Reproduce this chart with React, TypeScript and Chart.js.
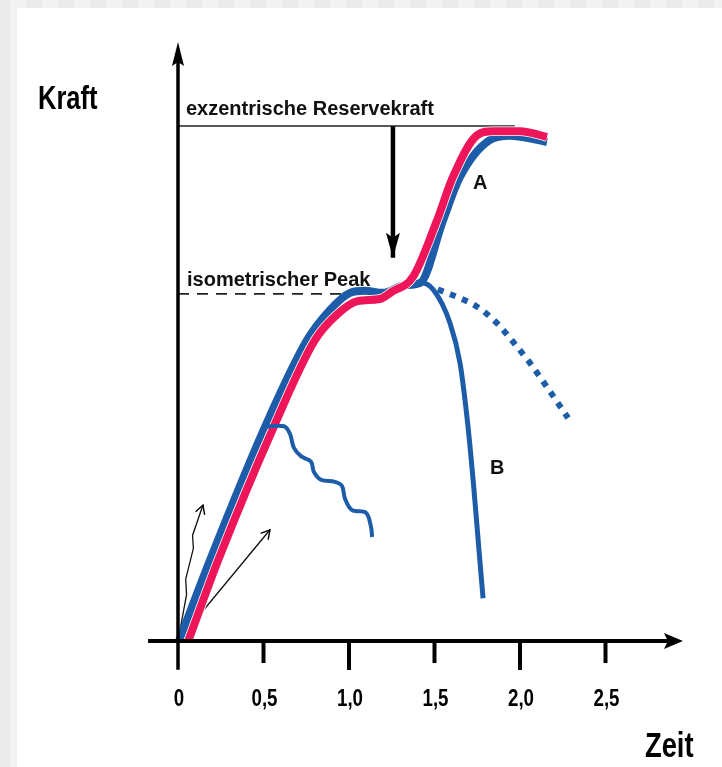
import React, { useEffect, useRef } from "react";
import { Chart, registerables } from "chart.js";
Chart.register(...registerables);

const W = 722;
const H = 767;

// ---- tick labels (x axis: Zeit) ----
const xTickValues = [0, 0.5, 1.0, 1.5, 2.0, 2.5];
const xTickLabels = ["0", "0,5", "1,0", "1,5", "2,0", "2,5"];
const xMajorTicks = [0, 1.0, 2.0];

// ---- reference levels ----
const reserveLevel = 100; // exzentrische Reservekraft
const reserveEndX = 1.97;
const peakLevel = 67.4; // isometrischer Peak
const peakEndX = 0.977;

// ---- series (x: Zeit, y: Kraft) ----
const curveARed: [number, number][] = [
  [0.06, 0], [0.235, 15.7], [0.56, 41.6], [0.8, 58.4], [0.93, 63.4],
  [1.05, 66.0], [1.18, 66.4], [1.25, 67.8], [1.374, 70.7],
  [1.515, 81.7], [1.608, 90.1], [1.749, 98.2], [1.842, 99.0], [2.0, 99.0],
  [2.158, 97.9],
];
const curveABlue: [number, number][] = [
  [0.006, 0], [0.187, 15.7], [0.509, 41.6], [0.754, 58.4], [0.889, 64.3],
  [1.006, 67.6], [1.094, 68.0], [1.2, 67.6], [1.327, 69.1], [1.415, 69.5],
  [1.55, 81.7], [1.649, 90.1], [1.825, 97.3], [1.94, 98.1], [2.158, 96.9],
];
const curveB: [number, number][] = [
  [1.3, 68.5], [1.415, 69.6], [1.491, 68.3], [1.591, 61.7], [1.649, 54.0],
  [1.696, 41.6], [1.731, 29.3], [1.76, 17.7], [1.784, 8.3],
];
const curveDotted: [number, number][] = [
  [1.52, 68.3], [1.749, 64.9], [1.865, 61.7], [1.959, 58.1], [2.058, 54.0],
  [2.158, 49.3], [2.281, 43.3],
];
const curveZigzag: [number, number][] = [
  [0.497, 41.6], [0.62, 41.7], [0.655, 40.2], [0.678, 37.5], [0.719, 35.9],
  [0.778, 34.8], [0.795, 32.8], [0.836, 31.3], [0.918, 30.9], [0.959, 30.1],
  [0.977, 27.6], [1.018, 25.4], [1.099, 24.9], [1.129, 22.1], [1.135, 20.2],
];
const thinArrow1: [number, number][] = [
  [0.0, 0], [0.05, 9], [0.045, 12], [0.09, 18], [0.085, 20.5], [0.146, 26.4],
];
const thinArrow2: [number, number][] = [
  [0.0, 0], [0.538, 21.6],
];
const thickArrow: [number, number][] = [
  [1.257, 100], [1.257, 74.4],
];

// ---- axis extents (in data units) ----
const xAxisFrom = -0.175;
const xAxisTo = 2.953;
const yAxisFrom = -5.6;
const yAxisTo = 116.3;

const RED = "#ee1559";
const BLUE = "#1c5ca8";

const toPts = (arr: [number, number][]) => arr.map(([x, y]) => ({ x, y }));

function drawScaledText(
  ctx: CanvasRenderingContext2D,
  text: string,
  x: number,
  y: number,
  font: string,
  sx: number,
  align: "left" | "center",
  baseline: CanvasTextBaseline
) {
  ctx.save();
  ctx.font = font;
  ctx.textBaseline = baseline;
  ctx.textAlign = align;
  ctx.translate(x, y);
  ctx.scale(sx, 1);
  ctx.fillText(text, 0, 0);
  ctx.restore();
}

const decorPlugin = {
  id: "decor",
  beforeDraw(chart: any) {
    const ctx: CanvasRenderingContext2D = chart.ctx;
    ctx.save();
    ctx.fillStyle = "#ffffff";
    ctx.fillRect(0, 0, W, H);
    ctx.fillStyle = "#ebebeb";
    ctx.fillRect(0, 0, 10, H);
    ctx.fillStyle = "#f3f3f3";
    ctx.fillRect(10, 0, 7, H);
    for (let k = 0, x = 10; x < W; k++, x += 16) {
      ctx.fillStyle = k % 2 === 0 ? "#f3f3f3" : "#ebebeb";
      ctx.fillRect(x, 0, 16, 8);
    }
    ctx.restore();
  },
  afterDatasetsDraw(chart: any) {
    const ctx: CanvasRenderingContext2D = chart.ctx;
    const xs = chart.scales.x;
    const ys = chart.scales.y;
    const X = (v: number) => xs.getPixelForValue(v);
    const Y = (v: number) => ys.getPixelForValue(v);
    ctx.save();
    ctx.fillStyle = "#000";
    ctx.strokeStyle = "#000";
    ctx.lineCap = "butt";

    // x axis
    const y0 = Y(0);
    const xTip = X(xAxisTo);
    ctx.lineWidth = 4;
    ctx.beginPath();
    ctx.moveTo(X(xAxisFrom), y0);
    ctx.lineTo(xTip - 10, y0);
    ctx.stroke();
    ctx.beginPath();
    ctx.moveTo(xTip, y0);
    ctx.lineTo(xTip - 19, y0 - 8);
    ctx.lineTo(xTip - 15, y0);
    ctx.lineTo(xTip - 19, y0 + 8);
    ctx.closePath();
    ctx.fill();

    // y axis
    const x0 = X(0);
    const yTip = Y(yAxisTo);
    ctx.lineWidth = 3.5;
    ctx.beginPath();
    ctx.moveTo(x0, Y(yAxisFrom));
    ctx.lineTo(x0, yTip + 12);
    ctx.stroke();
    ctx.beginPath();
    ctx.moveTo(x0, yTip);
    ctx.lineTo(x0 - 6, yTip + 24);
    ctx.lineTo(x0, yTip + 20);
    ctx.lineTo(x0 + 6, yTip + 24);
    ctx.closePath();
    ctx.fill();

    // ticks
    ctx.lineWidth = 4;
    xTickValues.forEach((v) => {
      if (v === 0) return;
      const len = xMajorTicks.includes(v) ? 29 : 22;
      ctx.beginPath();
      ctx.moveTo(X(v), y0);
      ctx.lineTo(X(v), y0 + len);
      ctx.stroke();
    });

    // tick labels
    xTickValues.forEach((v, i) => {
      drawScaledText(ctx, xTickLabels[i], X(v) + 1, y0 + 58, "bold 24px 'Liberation Sans', Arial, sans-serif", 0.78, "center", "middle");
    });

    // axis titles
    drawScaledText(ctx, "Kraft", 38, 109, "bold 34px 'Liberation Sans', Arial, sans-serif", 0.75, "left", "alphabetic");
    drawScaledText(ctx, "Zeit", 645, 757, "bold 35px 'Liberation Sans', Arial, sans-serif", 0.78, "left", "alphabetic");

    // annotations
    ctx.font = "bold 20px 'Liberation Sans', Arial, sans-serif";
    ctx.textAlign = "left";
    ctx.textBaseline = "alphabetic";
    ctx.fillStyle = "#111";
    ctx.fillText("exzentrische Reservekraft", X(0) + 8, Y(reserveLevel) - 11);
    ctx.fillText("isometrischer Peak", X(0) + 9, Y(peakLevel) - 8);
    ctx.fillText("A", 473, 189);
    ctx.fillText("B", 490, 474);

    // thick arrow head
    const ta = thickArrow[thickArrow.length - 1];
    const tx = X(ta[0]);
    const ty = Y(ta[1]);
    ctx.fillStyle = "#000";
    ctx.beginPath();
    ctx.moveTo(tx, ty);
    ctx.lineTo(tx - 7, ty - 25);
    ctx.lineTo(tx, ty - 20);
    ctx.lineTo(tx + 7, ty - 25);
    ctx.closePath();
    ctx.fill();

    // thin arrow heads (open V)
    [thinArrow1, thinArrow2].forEach((arr) => {
      const a = arr[arr.length - 2];
      const b = arr[arr.length - 1];
      const ax = X(a[0]), ay = Y(a[1]);
      const bx = X(b[0]), by = Y(b[1]);
      const ang = Math.atan2(by - ay, bx - ax);
      const L = 10;
      ctx.lineWidth = 1.4;
      ctx.beginPath();
      ctx.moveTo(bx - L * Math.cos(ang - 0.5), by - L * Math.sin(ang - 0.5));
      ctx.lineTo(bx, by);
      ctx.lineTo(bx - L * Math.cos(ang + 0.5), by - L * Math.sin(ang + 0.5));
      ctx.stroke();
    });
    ctx.restore();
  },
};

export default function App() {
  const ref = useRef<HTMLCanvasElement | null>(null);
  useEffect(() => {
    if (!ref.current) return;
    const chart = new Chart(ref.current, {
      type: "line",
      data: {
        datasets: [
          {
            data: toPts(curveZigzag),
            borderColor: BLUE,
            borderWidth: 4,
            tension: 0.35,
            pointRadius: 0,
            fill: false,
          },
          {
            data: toPts(curveARed),
            borderColor: RED,
            borderWidth: 8,
            cubicInterpolationMode: "monotone",
            pointRadius: 0,
            fill: false,
          },
          {
            data: toPts(curveARed),
            borderColor: "#ffffff",
            borderWidth: 9.5,
            cubicInterpolationMode: "monotone",
            pointRadius: 0,
            fill: false,
          },
          {
            data: toPts(curveABlue),
            borderColor: BLUE,
            borderWidth: 8,
            cubicInterpolationMode: "monotone",
            pointRadius: 0,
            fill: false,
          },
          {
            data: toPts(curveB),
            borderColor: BLUE,
            borderWidth: 5,
            cubicInterpolationMode: "monotone",
            pointRadius: 0,
            fill: false,
          },
          {
            data: toPts(curveDotted),
            borderColor: BLUE,
            borderWidth: 6,
            borderDash: [6, 7],
            cubicInterpolationMode: "monotone",
            pointRadius: 0,
            fill: false,
          },
          {
            data: [{ x: 0, y: reserveLevel }, { x: reserveEndX, y: reserveLevel }],
            borderColor: "#222",
            borderWidth: 1.6,
            tension: 0,
            pointRadius: 0,
            fill: false,
          },
          {
            data: [{ x: 0, y: peakLevel }, { x: peakEndX, y: peakLevel }],
            borderColor: "#222",
            borderWidth: 1.6,
            borderDash: [11, 8],
            tension: 0,
            pointRadius: 0,
            fill: false,
          },
          {
            data: toPts(thickArrow),
            borderColor: "#000",
            borderWidth: 4.5,
            tension: 0,
            pointRadius: 0,
            fill: false,
          },
          {
            data: toPts(thinArrow1),
            borderColor: "#111",
            borderWidth: 1.3,
            tension: 0,
            pointRadius: 0,
            fill: false,
          },
          {
            data: toPts(thinArrow2),
            borderColor: "#111",
            borderWidth: 1.3,
            tension: 0,
            pointRadius: 0,
            fill: false,
          },
        ],
      },
      options: {
        animation: false,
        responsive: false,
        devicePixelRatio: 1,
        events: [],
        layout: { padding: { left: 143.8, right: 31, top: 23, bottom: 74.5 } },
        plugins: { legend: { display: false }, tooltip: { enabled: false }, title: { display: false } },
        scales: {
          x: { type: "linear", min: -0.2, max: 3.0, display: false },
          y: { type: "linear", min: -10, max: 120, display: false },
        },
        spanGaps: true,
        clip: false as any,
      },
      plugins: [decorPlugin],
    });
    return () => chart.destroy();
  }, []);
  return (
    <canvas
      ref={ref}
      width={W}
      height={H}
      style={{ position: "absolute", left: 0, top: 0, width: W, height: H, display: "block" }}
    />
  );
}
